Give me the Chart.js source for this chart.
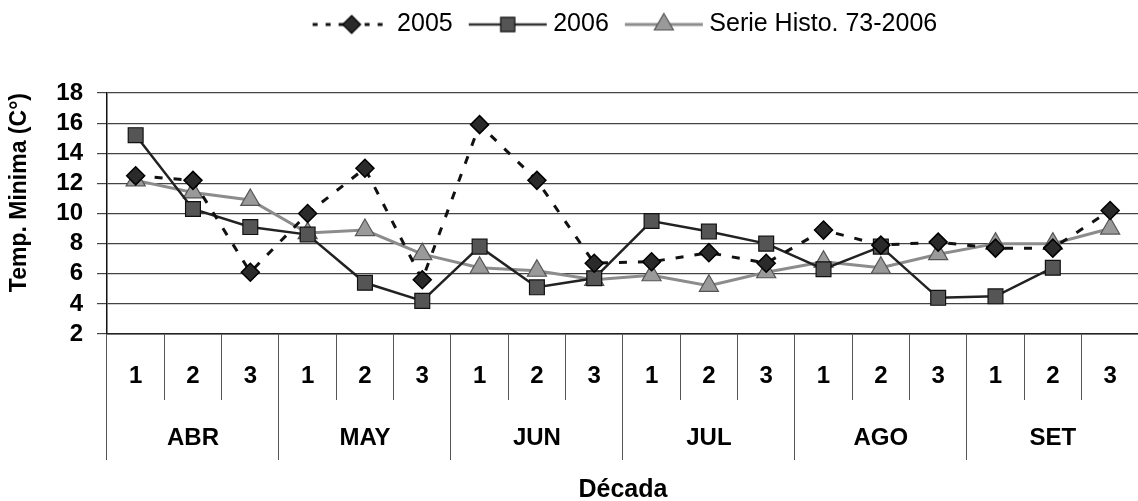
<!DOCTYPE html>
<html>
<head>
<meta charset="utf-8">
<script src="https://cdn.jsdelivr.net/npm/chart.js@4.4.1/dist/chart.umd.min.js"></script>
<style>
	html, body { margin: 0; padding: 0; background: #fff; overflow: hidden; }
	#wrap { width: 1151px; height: 501px; }
</style>
</head>
<body>
<div id="wrap"><canvas id="tempChart"></canvas></div>
<script>
// decade of each month (1, 2, 3) and the month groups under them
const decadeLabels = ["1", "2", "3", "1", "2", "3", "1", "2", "3", "1", "2", "3", "1", "2", "3", "1", "2", "3"];
const monthLabels = ["ABR", "MAY", "JUN", "JUL", "AGO", "SET"];

const values2005 = [12.5, 12.2, 6.1, 10.0, 13.0, 5.6, 15.9, 12.2, 6.7, 6.8, 7.4, 6.7, 8.9, 7.9, 8.1, 7.7, 7.7, 10.2];
const values2006 = [15.2, 10.3, 9.1, 8.6, 5.4, 4.2, 7.8, 5.1, 5.7, 9.5, 8.8, 8.0, 6.3, 7.8, 4.4, 4.5, 6.4, null];
const valuesHisto = [12.2, 11.4, 10.9, 8.7, 8.9, 7.3, 6.4, 6.2, 5.6, 5.9, 5.2, 6.1, 6.8, 6.4, 7.3, 8.0, 8.0, 9.0];

const yTicks = [2, 4, 6, 8, 10, 12, 14, 16, 18];

Chart.defaults.font.family = "'Liberation Sans', Arial, sans-serif";
Chart.defaults.color = "#000";

// legend symbol: a short line with the marker on it
function legendIcon(lineColor, lineWidth, dash, shape, fill, stroke, r) {
	const c = document.createElement("canvas");
	c.width = 92;
	c.height = 26;
	const g = c.getContext("2d");
	const cx = 51, cy = 13;
	g.strokeStyle = lineColor;
	g.lineWidth = lineWidth;
	g.setLineDash(dash);
	g.beginPath();
	g.moveTo(12, cy);
	g.lineTo(90, cy);
	g.stroke();
	g.setLineDash([]);
	g.fillStyle = fill;
	g.strokeStyle = stroke;
	g.lineWidth = 1.2;
	g.beginPath();
	if (shape === "diamond") {
		g.moveTo(cx, cy - r); g.lineTo(cx + r, cy); g.lineTo(cx, cy + r); g.lineTo(cx - r, cy);
	} else if (shape === "square") {
		const s = r * Math.SQRT1_2;
		g.rect(cx - s, cy - s, 2 * s, 2 * s);
	} else {
		g.moveTo(cx, cy - r); g.lineTo(cx + r * 0.866, cy + r * 0.5); g.lineTo(cx - r * 0.866, cy + r * 0.5);
	}
	g.closePath();
	g.fill();
	g.stroke();
	return c;
}

const legendIcons = [
	legendIcon("#111", 3, [5, 8], "diamond", "#2a2a2a", "#000", 9),
	legendIcon("#333", 2.5, [], "square", "#555", "#111", 10),
	legendIcon("#8c8c8c", 3, [], "triangle", "#9a9a9a", "#555", 11)
];

const legendSpacer = {
	id: "legendSpacer",
	beforeInit(chart) {
		const fit = chart.legend.fit;
		chart.legend.fit = function () {
			fit.call(this);
			this.height = 93;
		};
	}
};

const ctx = document.getElementById("tempChart");
new Chart(ctx, {
	type: "line",
	data: {
		labels: decadeLabels,
		datasets: [
			{
				label: "2005",
				data: values2005,
				borderColor: "#111",
				borderWidth: 3,
				borderDash: [8, 11],
				pointStyle: "rectRot",
				pointRadius: 9,
				pointBackgroundColor: "#2a2a2a",
				pointBorderColor: "#000",
				pointBorderWidth: 1.5,
				tension: 0
			},
			{
				label: "2006",
				data: values2006,
				borderColor: "#222",
				borderWidth: 2.5,
				pointStyle: "rect",
				pointRadius: 10.5,
				pointBackgroundColor: "#555",
				pointBorderColor: "#111",
				pointBorderWidth: 1.2,
				tension: 0
			},
			{
				label: "Serie Histo. 73-2006",
				data: valuesHisto,
				borderColor: "#8c8c8c",
				borderWidth: 3,
				pointStyle: "triangle",
				pointRadius: 11,
				pointBackgroundColor: "#9a9a9a",
				pointBorderColor: "#555",
				pointBorderWidth: 1.2,
				tension: 0
			}
		]
	},
	options: {
		responsive: true,
		maintainAspectRatio: false,
		animation: false,
		layout: { padding: 0 },
		plugins: {
			tooltip: { enabled: false },
			legend: {
				position: "top",
				fullSize: false,
				labels: {
					usePointStyle: true,
					pointStyleWidth: 76,
					boxHeight: 20,
					padding: 12,
					color: "#000",
					font: { size: 25 },
					generateLabels: chart => chart.data.datasets.map((ds, i) => ({
						text: ds.label,
						pointStyle: legendIcons[i],
						fillStyle: "#000",
						strokeStyle: "#000",
						lineWidth: 0,
						hidden: false,
						datasetIndex: i
					}))
				}
			}
		},
		scales: {
			y: {
				min: yTicks[0],
				max: yTicks[yTicks.length - 1],
				afterBuildTicks: s => { s.ticks = yTicks.map(v => ({ value: v })); },
				ticks: { font: { size: 24, weight: "bold" }, color: "#000", padding: 14, autoSkip: false },
				grid: { color: "#444", lineWidth: 1.2, tickLength: 10 },
				border: { color: "#111", width: 1.5 },
				title: {
					display: true,
					text: "Temp. Minima (C°)",
					align: "end",
					font: { size: 23, weight: "bold" },
					color: "#000",
					padding: { top: 6, bottom: 0 }
				},
				afterFit: s => { s.width = 107; }
			},
			x: {
				type: "category",
				offset: true,
				weight: 0,
				grid: { drawOnChartArea: false, drawTicks: true, tickLength: 66, offset: true, color: "#555", lineWidth: 1 },
				border: { display: true, color: "#222", width: 1.5 },
				ticks: { font: { size: 24, weight: "bold" }, color: "#000", padding: -38, autoSkip: false, maxRotation: 0 },
				afterFit: s => { s.height = 66; }
			},
			x2: {
				type: "category",
				labels: monthLabels,
				position: "bottom",
				offset: true,
				weight: 1,
				grid: { drawOnChartArea: false, drawTicks: true, tickLength: 60, offset: true, color: "#555", lineWidth: 1 },
				border: { display: false },
				ticks: { font: { size: 24, weight: "bold" }, color: "#000", padding: -36, autoSkip: false, maxRotation: 0 },
				title: {
					display: true,
					text: "Década",
					font: { size: 25, weight: "bold" },
					color: "#000",
					padding: { top: 0, bottom: -4 }
				},
				afterFit: s => { s.height = 101; }
			}
		}
	},
	plugins: [legendSpacer]
});
</script>
</body>
</html>
